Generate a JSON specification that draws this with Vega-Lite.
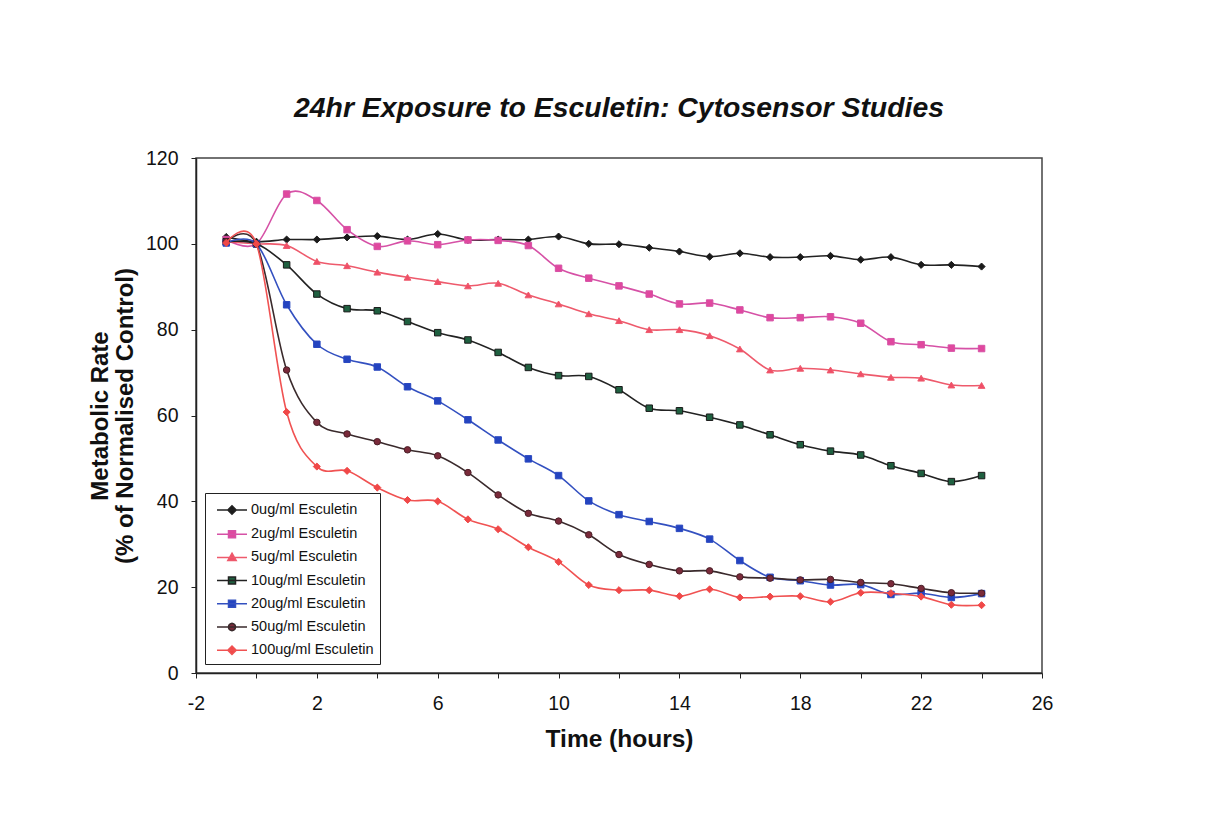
{
  "$schema": "https://vega.github.io/schema/vega-lite/v6.json",
  "width": 846,
  "height": 515,
  "autosize": {"type": "none"},
  "padding": {"left": 196, "top": 158, "right": 175, "bottom": 160},
  "background": "white",
  "title": {"text": "24hr Exposure to Esculetin: Cytosensor Studies", "font": "Liberation Sans", "fontSize": 28.4, "fontWeight": "bold", "fontStyle": "italic", "anchor": "middle", "offset": 25, "color": "#111111"},
  "config": {
    "view": {"stroke": "#444444", "strokeWidth": 1.5},
    "font": "Liberation Sans",
    "legend": {"labelFont": "Liberation Sans", "labelFontSize": 14.5, "labelColor": "#111111", "rowPadding": 5.2, "symbolSize": 400, "symbolStrokeWidth": 1.5, "padding": 6, "labelOffset": 18, "labelLimit": 300}
  },
  "data": {"values": [
    {"t": -1, "0ug/ml Esculetin": 101.6, "2ug/ml Esculetin": 101, "5ug/ml Esculetin": 100.5, "10ug/ml Esculetin": 100.5, "20ug/ml Esculetin": 100.2, "50ug/ml Esculetin": 100.5, "100ug/ml Esculetin": 100.2},
    {"t": 0, "0ug/ml Esculetin": 100.5, "2ug/ml Esculetin": 100, "5ug/ml Esculetin": 100, "10ug/ml Esculetin": 100, "20ug/ml Esculetin": 100, "50ug/ml Esculetin": 100, "100ug/ml Esculetin": 100},
    {"t": 1, "0ug/ml Esculetin": 101, "2ug/ml Esculetin": 111.6, "5ug/ml Esculetin": 99.6, "10ug/ml Esculetin": 95.1, "20ug/ml Esculetin": 85.8, "50ug/ml Esculetin": 70.6, "100ug/ml Esculetin": 60.8},
    {"t": 2, "0ug/ml Esculetin": 101, "2ug/ml Esculetin": 110.1, "5ug/ml Esculetin": 95.9, "10ug/ml Esculetin": 88.3, "20ug/ml Esculetin": 76.6, "50ug/ml Esculetin": 58.4, "100ug/ml Esculetin": 48.1},
    {"t": 3, "0ug/ml Esculetin": 101.5, "2ug/ml Esculetin": 103.3, "5ug/ml Esculetin": 94.9, "10ug/ml Esculetin": 84.9, "20ug/ml Esculetin": 73.1, "50ug/ml Esculetin": 55.7, "100ug/ml Esculetin": 47.1},
    {"t": 4, "0ug/ml Esculetin": 101.8, "2ug/ml Esculetin": 99.4, "5ug/ml Esculetin": 93.4, "10ug/ml Esculetin": 84.4, "20ug/ml Esculetin": 71.3, "50ug/ml Esculetin": 53.9, "100ug/ml Esculetin": 43.2},
    {"t": 5, "0ug/ml Esculetin": 101, "2ug/ml Esculetin": 100.7, "5ug/ml Esculetin": 92.2, "10ug/ml Esculetin": 81.9, "20ug/ml Esculetin": 66.7, "50ug/ml Esculetin": 52.0, "100ug/ml Esculetin": 40.3},
    {"t": 6, "0ug/ml Esculetin": 102.3, "2ug/ml Esculetin": 99.8, "5ug/ml Esculetin": 91.2, "10ug/ml Esculetin": 79.3, "20ug/ml Esculetin": 63.4, "50ug/ml Esculetin": 50.6, "100ug/ml Esculetin": 40.0},
    {"t": 7, "0ug/ml Esculetin": 100.9, "2ug/ml Esculetin": 100.9, "5ug/ml Esculetin": 90.2, "10ug/ml Esculetin": 77.6, "20ug/ml Esculetin": 59.0, "50ug/ml Esculetin": 46.7, "100ug/ml Esculetin": 35.8},
    {"t": 8, "0ug/ml Esculetin": 101, "2ug/ml Esculetin": 100.8, "5ug/ml Esculetin": 90.8, "10ug/ml Esculetin": 74.7, "20ug/ml Esculetin": 54.3, "50ug/ml Esculetin": 41.5, "100ug/ml Esculetin": 33.5},
    {"t": 9, "0ug/ml Esculetin": 101, "2ug/ml Esculetin": 99.6, "5ug/ml Esculetin": 88.1, "10ug/ml Esculetin": 71.2, "20ug/ml Esculetin": 49.9, "50ug/ml Esculetin": 37.2, "100ug/ml Esculetin": 29.3},
    {"t": 10, "0ug/ml Esculetin": 101.7, "2ug/ml Esculetin": 94.3, "5ug/ml Esculetin": 86.0, "10ug/ml Esculetin": 69.3, "20ug/ml Esculetin": 46.0, "50ug/ml Esculetin": 35.4, "100ug/ml Esculetin": 25.9},
    {"t": 11, "0ug/ml Esculetin": 100, "2ug/ml Esculetin": 92.0, "5ug/ml Esculetin": 83.7, "10ug/ml Esculetin": 69.1, "20ug/ml Esculetin": 40.1, "50ug/ml Esculetin": 32.2, "100ug/ml Esculetin": 20.5},
    {"t": 12, "0ug/ml Esculetin": 99.9, "2ug/ml Esculetin": 90.2, "5ug/ml Esculetin": 82.1, "10ug/ml Esculetin": 66.0, "20ug/ml Esculetin": 36.9, "50ug/ml Esculetin": 27.6, "100ug/ml Esculetin": 19.3},
    {"t": 13, "0ug/ml Esculetin": 99.1, "2ug/ml Esculetin": 88.3, "5ug/ml Esculetin": 80.0, "10ug/ml Esculetin": 61.7, "20ug/ml Esculetin": 35.3, "50ug/ml Esculetin": 25.3, "100ug/ml Esculetin": 19.3},
    {"t": 14, "0ug/ml Esculetin": 98.2, "2ug/ml Esculetin": 86.0, "5ug/ml Esculetin": 80.0, "10ug/ml Esculetin": 61.1, "20ug/ml Esculetin": 33.7, "50ug/ml Esculetin": 23.8, "100ug/ml Esculetin": 17.9},
    {"t": 15, "0ug/ml Esculetin": 97.0, "2ug/ml Esculetin": 86.2, "5ug/ml Esculetin": 78.6, "10ug/ml Esculetin": 59.6, "20ug/ml Esculetin": 31.2, "50ug/ml Esculetin": 23.8, "100ug/ml Esculetin": 19.5},
    {"t": 16, "0ug/ml Esculetin": 97.8, "2ug/ml Esculetin": 84.6, "5ug/ml Esculetin": 75.5, "10ug/ml Esculetin": 57.8, "20ug/ml Esculetin": 26.2, "50ug/ml Esculetin": 22.4, "100ug/ml Esculetin": 17.6},
    {"t": 17, "0ug/ml Esculetin": 96.9, "2ug/ml Esculetin": 82.8, "5ug/ml Esculetin": 70.6, "10ug/ml Esculetin": 55.5, "20ug/ml Esculetin": 22.3, "50ug/ml Esculetin": 22.1, "100ug/ml Esculetin": 17.8},
    {"t": 18, "0ug/ml Esculetin": 96.9, "2ug/ml Esculetin": 82.8, "5ug/ml Esculetin": 71.0, "10ug/ml Esculetin": 53.2, "20ug/ml Esculetin": 21.5, "50ug/ml Esculetin": 21.7, "100ug/ml Esculetin": 17.9},
    {"t": 19, "0ug/ml Esculetin": 97.2, "2ug/ml Esculetin": 83.0, "5ug/ml Esculetin": 70.6, "10ug/ml Esculetin": 51.7, "20ug/ml Esculetin": 20.5, "50ug/ml Esculetin": 21.8, "100ug/ml Esculetin": 16.6},
    {"t": 20, "0ug/ml Esculetin": 96.3, "2ug/ml Esculetin": 81.5, "5ug/ml Esculetin": 69.7, "10ug/ml Esculetin": 50.8, "20ug/ml Esculetin": 20.6, "50ug/ml Esculetin": 21.1, "100ug/ml Esculetin": 18.7},
    {"t": 21, "0ug/ml Esculetin": 96.9, "2ug/ml Esculetin": 77.2, "5ug/ml Esculetin": 68.9, "10ug/ml Esculetin": 48.3, "20ug/ml Esculetin": 18.3, "50ug/ml Esculetin": 20.8, "100ug/ml Esculetin": 18.6},
    {"t": 22, "0ug/ml Esculetin": 95.1, "2ug/ml Esculetin": 76.5, "5ug/ml Esculetin": 68.7, "10ug/ml Esculetin": 46.5, "20ug/ml Esculetin": 18.6, "50ug/ml Esculetin": 19.7, "100ug/ml Esculetin": 17.8},
    {"t": 23, "0ug/ml Esculetin": 95.1, "2ug/ml Esculetin": 75.7, "5ug/ml Esculetin": 67.1, "10ug/ml Esculetin": 44.6, "20ug/ml Esculetin": 17.6, "50ug/ml Esculetin": 18.7, "100ug/ml Esculetin": 15.9},
    {"t": 24, "0ug/ml Esculetin": 94.7, "2ug/ml Esculetin": 75.6, "5ug/ml Esculetin": 67.0, "10ug/ml Esculetin": 46.0, "20ug/ml Esculetin": 18.5, "50ug/ml Esculetin": 18.6, "100ug/ml Esculetin": 15.8}
  ]},
  "transform": [
    {"fold": ["0ug/ml Esculetin", "2ug/ml Esculetin", "5ug/ml Esculetin", "10ug/ml Esculetin", "20ug/ml Esculetin", "50ug/ml Esculetin", "100ug/ml Esculetin"], "as": ["series", "value"]}
  ],
  "encoding": {
    "x": {"field": "t", "type": "quantitative", "scale": {"domain": [-2, 26], "nice": false, "zero": false},
      "axis": {"values": [-2, 0, 2, 4, 6, 8, 10, 12, 14, 16, 18, 20, 22, 24, 26], "labelExpr": "(datum.value + 2) % 4 == 0 ? '' + datum.value : ''", "grid": false, "tickSize": 5, "tickColor": "#222222", "domainColor": "#222222", "domainWidth": 1.5, "labelFont": "Liberation Sans", "labelFontSize": 19.5, "labelColor": "#111111", "labelPadding": 16, "title": "Time (hours)", "titleFont": "Liberation Sans", "titleFontSize": 24.5, "titleFontWeight": "bold", "titleColor": "#111111", "titlePadding": 15, "labelFlush": false, "labelOverlap": false}},
    "y": {"field": "value", "type": "quantitative", "scale": {"domain": [0, 120], "nice": false},
      "axis": {"values": [0, 20, 40, 60, 80, 100, 120], "grid": false, "tickSize": 5, "tickColor": "#222222", "domainColor": "#222222", "domainWidth": 1.5, "labelFont": "Liberation Sans", "labelFontSize": 19.5, "labelColor": "#111111", "labelPadding": 13, "title": ["Metabolic Rate", "(% of Normalised Control)"], "titleFont": "Liberation Sans", "titleFontSize": 24, "titleFontWeight": "bold", "titleColor": "#111111", "titleLineHeight": 25, "titlePadding": 8, "labelFlush": false}}
  },
  "layer": [
    {"transform": [{"filter": {"field": "series", "equal": "0ug/ml Esculetin"}}],
     "layer": [
       {"mark": {"type": "line", "interpolate": "cardinal", "strokeWidth": 1.6, "color": "#222222"}, "encoding": {}},
       {"mark": {"type": "point", "shape": "diamond", "filled": true, "size": 50, "fill": "#1a1a1a", "stroke": "#1a1a1a", "strokeWidth": 1, "opacity": 1}}
     ]},
    {"transform": [{"filter": {"field": "series", "equal": "2ug/ml Esculetin"}}],
     "layer": [
       {"mark": {"type": "line", "interpolate": "cardinal", "strokeWidth": 1.6, "color": "#d651a6"}, "encoding": {}},
       {"mark": {"type": "point", "shape": "square", "filled": true, "size": 42, "fill": "#e0489e", "stroke": "#d651a6", "strokeWidth": 1, "opacity": 1}}
     ]},
    {"transform": [{"filter": {"field": "series", "equal": "5ug/ml Esculetin"}}],
     "layer": [
       {"mark": {"type": "line", "interpolate": "cardinal", "strokeWidth": 1.6, "color": "#ee5a6c"}, "encoding": {}},
       {"mark": {"type": "point", "shape": "triangle-up", "filled": true, "size": 45, "fill": "#f04e68", "stroke": "#ee5a6c", "strokeWidth": 1, "opacity": 1}}
     ]},
    {"transform": [{"filter": {"field": "series", "equal": "10ug/ml Esculetin"}}],
     "layer": [
       {"mark": {"type": "line", "interpolate": "cardinal", "strokeWidth": 1.6, "color": "#222222"}, "encoding": {}},
       {"mark": {"type": "point", "shape": "square", "filled": true, "size": 42, "fill": "#1f6040", "stroke": "#1a1a1a", "strokeWidth": 1, "opacity": 1}}
     ]},
    {"transform": [{"filter": {"field": "series", "equal": "20ug/ml Esculetin"}}],
     "layer": [
       {"mark": {"type": "line", "interpolate": "cardinal", "strokeWidth": 1.6, "color": "#3350c0"}, "encoding": {}},
       {"mark": {"type": "point", "shape": "square", "filled": true, "size": 42, "fill": "#2444c0", "stroke": "#2a48c0", "strokeWidth": 1, "opacity": 1}}
     ]},
    {"transform": [{"filter": {"field": "series", "equal": "50ug/ml Esculetin"}}],
     "layer": [
       {"mark": {"type": "line", "interpolate": "cardinal", "strokeWidth": 1.6, "color": "#3a2a2c"}, "encoding": {}},
       {"mark": {"type": "point", "shape": "circle", "filled": true, "size": 42, "fill": "#7a2a3a", "stroke": "#4a2028", "strokeWidth": 1, "opacity": 1}}
     ]},
    {"transform": [{"filter": {"field": "series", "equal": "100ug/ml Esculetin"}}],
     "layer": [
       {"mark": {"type": "line", "interpolate": "cardinal", "strokeWidth": 1.6, "color": "#f05252"}, "encoding": {}},
       {"mark": {"type": "point", "shape": "diamond", "filled": true, "size": 50, "fill": "#f04848", "stroke": "#f04848", "strokeWidth": 1, "opacity": 1}}
     ]},
    {
      "mark": {"type": "point", "filled": true, "size": 400, "strokeWidth": 1.5, "opacity": 0},
      "encoding": {
        "stroke": {"field": "series", "type": "nominal",
          "scale": {"domain": ["0ug/ml Esculetin", "2ug/ml Esculetin", "5ug/ml Esculetin", "10ug/ml Esculetin", "20ug/ml Esculetin", "50ug/ml Esculetin", "100ug/ml Esculetin"],
            "range": ["#222222", "#d651a6", "#ee5a6c", "#222222", "#3350c0", "#3a2a2c", "#f05252"]},
          "legend": {"title": null, "orient": "bottom-left", "offset": 9, "padding": 6, "rowPadding": 5.2, "symbolSize": 400, "symbolStrokeWidth": 1.5, "symbolOpacity": 1, "labelFont": "Liberation Sans", "labelFontSize": 14.5, "labelColor": "#111111", "labelOffset": 18, "labelLimit": 300, "strokeColor": "#222222", "fillColor": "white", "cornerRadius": 0}},
        "fill": {"field": "series", "type": "nominal",
          "scale": {"domain": ["0ug/ml Esculetin", "2ug/ml Esculetin", "5ug/ml Esculetin", "10ug/ml Esculetin", "20ug/ml Esculetin", "50ug/ml Esculetin", "100ug/ml Esculetin"],
            "range": ["#1a1a1a", "#e0489e", "#f04e68", "#1f6040", "#2444c0", "#7a2a3a", "#f04848"]},
          "legend": {"title": null, "orient": "bottom-left", "offset": 9, "padding": 6, "rowPadding": 5.2, "symbolSize": 400, "symbolStrokeWidth": 1.5, "symbolOpacity": 1, "labelFont": "Liberation Sans", "labelFontSize": 14.5, "labelColor": "#111111", "labelOffset": 18, "labelLimit": 300, "strokeColor": "#222222", "fillColor": "white", "cornerRadius": 0}},
        "shape": {"field": "series", "type": "nominal",
          "scale": {"domain": ["0ug/ml Esculetin", "2ug/ml Esculetin", "5ug/ml Esculetin", "10ug/ml Esculetin", "20ug/ml Esculetin", "50ug/ml Esculetin", "100ug/ml Esculetin"],
            "range": [
              "M-0.5,0L2.5,0M1,-0.42L1.42,0L1,0.42L0.58,0Z",
              "M-0.5,0L2.5,0M0.65,-0.35L1.35,-0.35L1.35,0.35L0.65,0.35Z",
              "M-0.5,0L2.5,0M1,-0.42L1.42,0.32L0.58,0.32Z",
              "M-0.5,0L2.5,0M0.65,-0.35L1.35,-0.35L1.35,0.35L0.65,0.35Z",
              "M-0.5,0L2.5,0M0.65,-0.35L1.35,-0.35L1.35,0.35L0.65,0.35Z",
              "M-0.5,0L2.5,0M1.36,0L1.312,0.18L1.18,0.312L1,0.36L0.82,0.312L0.688,0.18L0.64,0L0.688,-0.18L0.82,-0.312L1,-0.36L1.18,-0.312L1.312,-0.18Z",
              "M-0.5,0L2.5,0M1,-0.42L1.42,0L1,0.42L0.58,0Z"
            ]},
          "legend": {"title": null, "orient": "bottom-left", "offset": 9, "padding": 6, "rowPadding": 5.2, "symbolSize": 400, "symbolStrokeWidth": 1.5, "symbolOpacity": 1, "labelFont": "Liberation Sans", "labelFontSize": 14.5, "labelColor": "#111111", "labelOffset": 18, "labelLimit": 300, "strokeColor": "#222222", "fillColor": "white", "cornerRadius": 0}}
      }
    }
  ]
}
